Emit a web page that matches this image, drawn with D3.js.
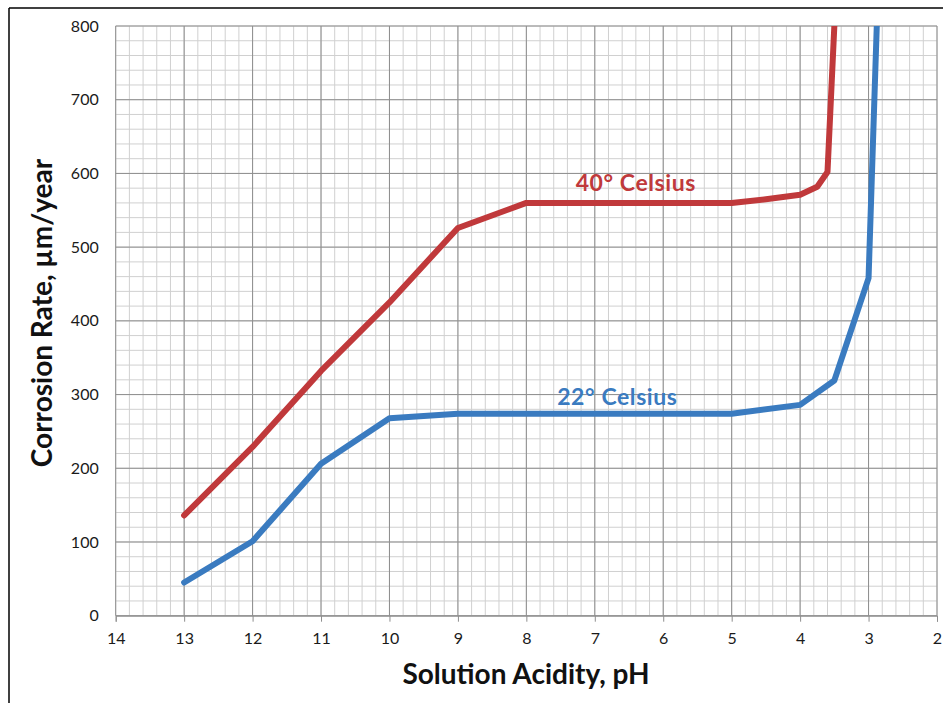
<!DOCTYPE html>
<html>
<head>
<meta charset="utf-8">
<script src="https://cdn.jsdelivr.net/npm/d3@7"></script>
<style>
  body { margin: 0; background: #fff; }
  svg { display: block; }
</style>
</head>
<body>
<script>
// ---- data ----
const xTicks = [14, 13, 12, 11, 10, 9, 8, 7, 6, 5, 4, 3, 2];
const yTicks = [0, 100, 200, 300, 400, 500, 600, 700, 800];

const pH22 = [13, 12, 11, 10, 9, 8, 7, 6, 5, 4, 3.5, 3, 2.88];
const rate22 = [45, 101, 206, 268, 274, 274, 274, 274, 274, 286, 319, 458, 800];

const pH40 = [13, 12, 11, 10, 9, 8, 7, 6, 5, 4.5, 4, 3.75, 3.6, 3.5];
const rate40 = [136, 229, 332, 425, 526, 560, 560, 560, 560, 565, 571, 582, 602, 800];

const seriesLabels = ["22° Celsius", "40° Celsius"];
const xTitle = "Solution Acidity, pH";
const yTitle = "Corrosion Rate, µm/year";

// ---- layout ----
const W = 943, H = 703;
const pLeft = 115.7, pRight = 937, pTop = 26, pBottom = 615.7;
const FONT = "Lato, 'Open Sans', sans-serif";

const svg = d3.select("body").append("svg").attr("width", W).attr("height", H);

// outer frame (top and left edges visible)
svg.append("line").attr("x1", 9).attr("x2", W).attr("y1", 8).attr("y2", 8)
  .attr("stroke", "#000").attr("stroke-width", 1.5);
svg.append("line").attr("x1", 9).attr("x2", 9).attr("y1", 8).attr("y2", H)
  .attr("stroke", "#000").attr("stroke-width", 1.5);

const x = d3.scaleLinear().domain([14, 2]).range([pLeft, pRight]);
const y = d3.scaleLinear().domain([0, 800]).range([pBottom, pTop]);

// grid
const g = svg.append("g");
const minorX = d3.range(0, 61).map(i => 14 - i * 0.2);
const minorY = d3.range(0, 41).map(i => i * 20);
g.selectAll(".mx").data(minorX).enter().append("line")
  .attr("x1", d => x(d)).attr("x2", d => x(d)).attr("y1", pTop).attr("y2", pBottom)
  .attr("stroke", "#d0d0d0").attr("stroke-width", 1);
g.selectAll(".my").data(minorY).enter().append("line")
  .attr("y1", d => y(d)).attr("y2", d => y(d)).attr("x1", pLeft).attr("x2", pRight)
  .attr("stroke", "#d0d0d0").attr("stroke-width", 1);
g.selectAll(".Mx").data(xTicks).enter().append("line")
  .attr("x1", d => x(d)).attr("x2", d => x(d)).attr("y1", pTop).attr("y2", pBottom)
  .attr("stroke", "#8e8e8e").attr("stroke-width", 1);
g.selectAll(".My").data(yTicks).enter().append("line")
  .attr("y1", d => y(d)).attr("y2", d => y(d)).attr("x1", pLeft).attr("x2", pRight)
  .attr("stroke", "#8e8e8e").attr("stroke-width", 1);

// x axis
const xAxis = d3.axisBottom(x).tickValues(xTicks).tickSize(6).tickPadding(11).tickFormat(d3.format("d"));
const xa = svg.append("g").attr("transform", `translate(0,${pBottom})`).call(xAxis);
xa.select(".domain").attr("stroke", "#8e8e8e");
xa.selectAll(".tick line").attr("stroke", "#8e8e8e");
xa.selectAll("text").attr("font-family", FONT).attr("font-size", 16).attr("fill", "#1a1a1a");

// y axis labels
const yAxis = d3.axisLeft(y).tickValues(yTicks).tickSize(0).tickPadding(17);
const ya = svg.append("g").attr("transform", `translate(${pLeft},0)`).call(yAxis);
ya.select(".domain").remove();
ya.selectAll("text").attr("font-family", FONT).attr("font-size", 16).attr("fill", "#1a1a1a");

// clip
svg.append("clipPath").attr("id", "clip").append("rect")
  .attr("x", pLeft).attr("y", pTop).attr("width", pRight - pLeft).attr("height", pBottom - pTop);

const line = d3.line().x(d => x(d[0])).y(d => y(d[1]));
const series = [
  { pts: d3.zip(pH40, rate40), color: "#c0393b" },
  { pts: d3.zip(pH22, rate22), color: "#3a7bc0" }
];
svg.append("g").attr("clip-path", "url(#clip)").selectAll("path").data(series).enter().append("path")
  .attr("d", d => line(d.pts)).attr("fill", "none").attr("stroke", d => d.color)
  .attr("stroke-width", 6).attr("stroke-linejoin", "round").attr("stroke-linecap", "round");

// series labels
svg.append("text").attr("x", x(6.4)).attr("y", 191).attr("text-anchor", "middle")
  .attr("font-family", FONT).attr("font-weight", "bold").attr("font-size", 23)
  .attr("letter-spacing", 0.6)
  .attr("fill", "#c0393b").text(seriesLabels[1]);
svg.append("text").attr("x", x(6.67)).attr("y", 405).attr("text-anchor", "middle")
  .attr("font-family", FONT).attr("font-weight", "bold").attr("font-size", 23)
  .attr("letter-spacing", 0.6)
  .attr("fill", "#3a7bc0").text(seriesLabels[0]);

// axis titles
svg.append("text").attr("x", 526).attr("y", 684).attr("text-anchor", "middle")
  .attr("font-family", FONT).attr("font-weight", "bold").attr("font-size", 28)
  .attr("fill", "#111").text(xTitle);
svg.append("text").attr("transform", "translate(52,313) rotate(-90)").attr("text-anchor", "middle")
  .attr("font-family", FONT).attr("font-weight", "bold").attr("font-size", 28)
  .attr("fill", "#111").text(yTitle);
</script>
</body>
</html>
